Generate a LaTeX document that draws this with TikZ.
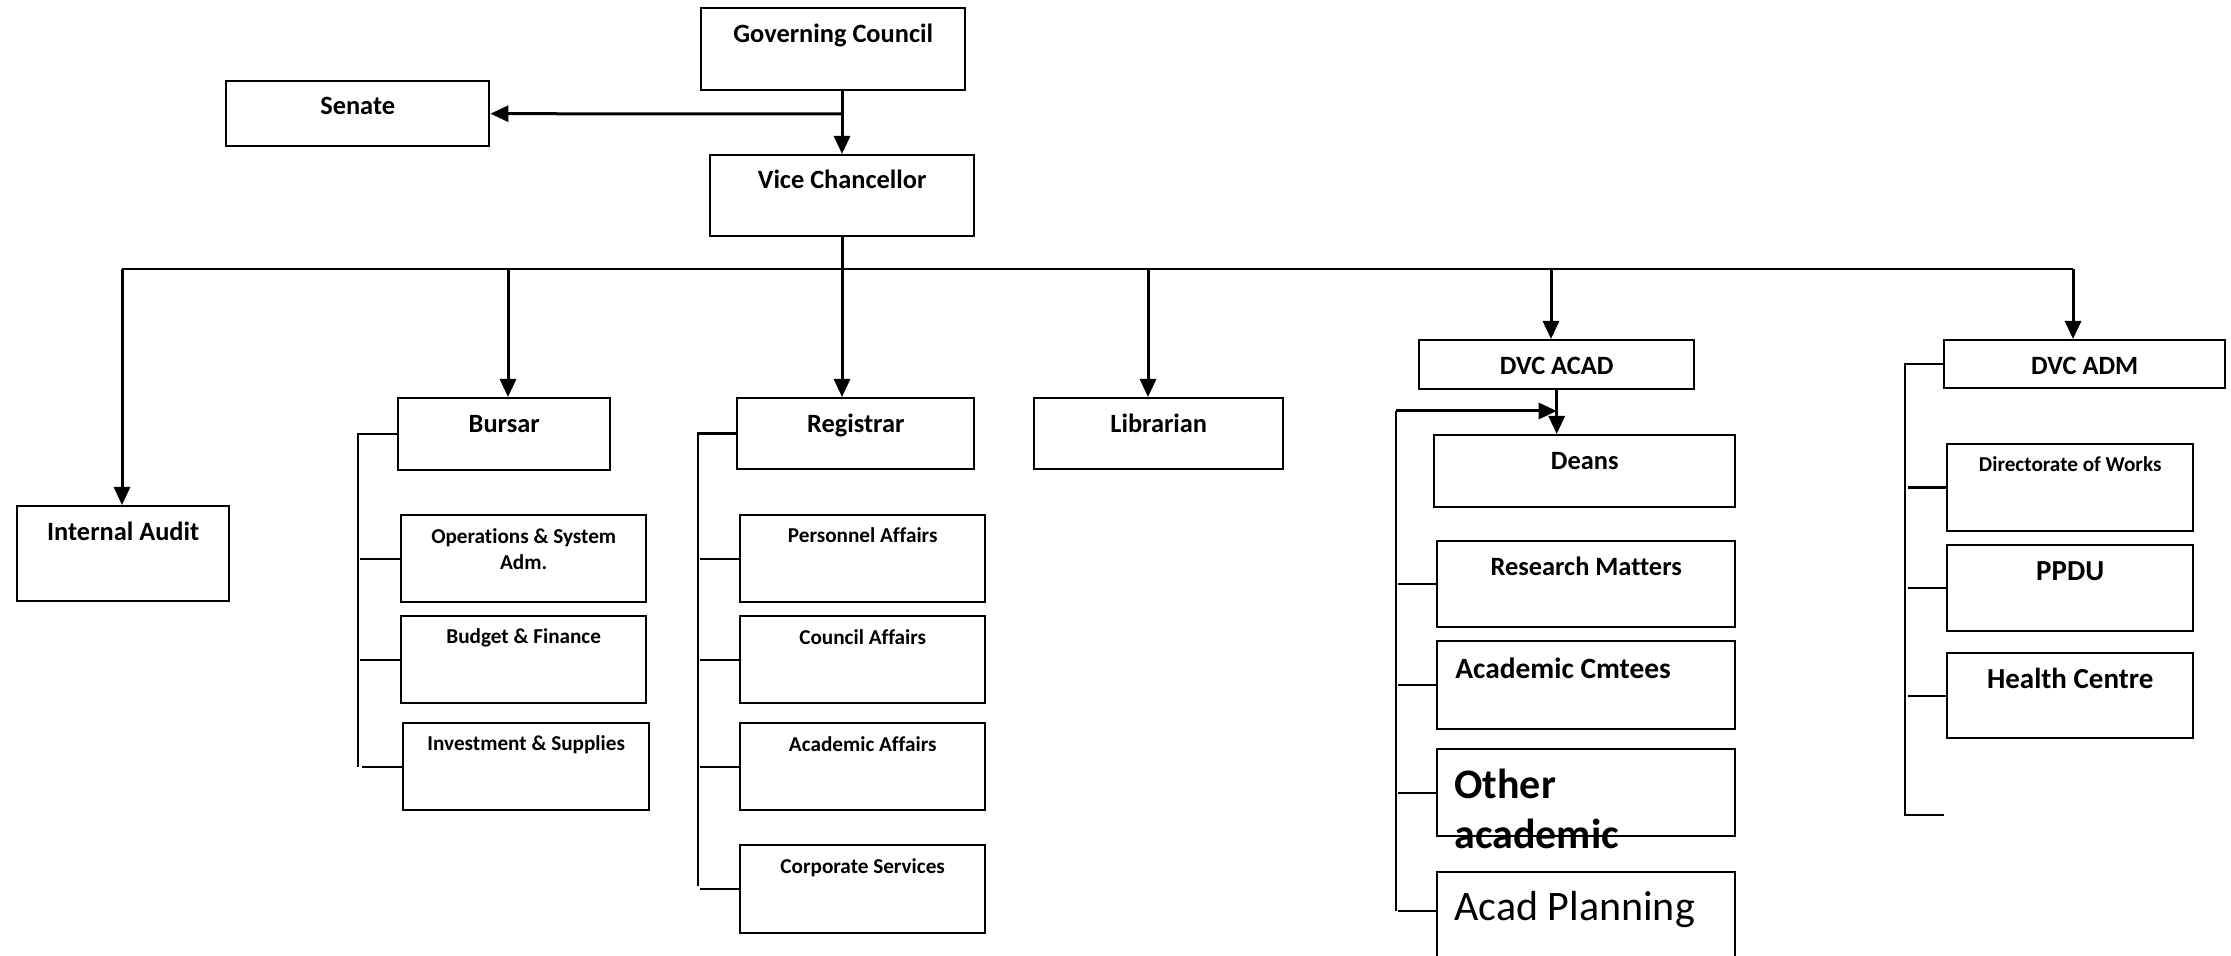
\documentclass[tikz,border=0pt]{standalone}
\usepackage{fontspec}
\setmainfont{Carlito}[Ligatures=NoCommon]
\usetikzlibrary{arrows.meta}

\begin{document}
\begin{tikzpicture}[
        x=0.5pt, y=-0.5pt, % one unit = one pixel of the scan
        cell/.style={draw, line width=1.2pt, inner sep=0pt, anchor=north west}, % boxes
        head/.style={anchor=base, font=\bfseries\fontsize{13.2}{16}\selectfont},
        sub/.style={anchor=base, align=center, font=\bfseries\fontsize{10.6}{13}\selectfont},
        big/.style={anchor=base west, align=left, inner sep=0pt, font=\bfseries\fontsize{21}{25}\selectfont},
        link/.style={line width=1.5pt, -{Triangle[length=9pt, width=8pt]}},
        bar/.style={line width=1.2pt},
    ]
    \useasboundingbox (0,0) rectangle (2231,956);
    \clip (0,0) rectangle (2231,956);

    % top of the chart
    \node[cell, minimum width=132pt, minimum height=41pt] (gc) at (700,7) {};
    \node[head] at ([yshift=-18pt]gc.north) {Governing Council};
    \node[cell, minimum width=131.5pt, minimum height=32.5pt] (sen) at (225,80) {};
    \node[head] at ([yshift=-17.5pt]sen.north) {Senate};
    \node[cell, minimum width=132pt, minimum height=40.5pt] (vc) at (709,154) {};
    \node[head] at ([yshift=-17.5pt]vc.north) {Vice Chancellor};

    \coordinate (fork) at (842,114);
    \draw[link] (gc.south -| fork) -- (vc.north -| fork);
    \draw[link] (fork) -- (sen.east);

    % second level
    \node[cell, minimum width=106pt, minimum height=47.5pt] (ia) at (16,505) {};
    \node[head] at ([yshift=-17.5pt]ia.north) {Internal Audit};
    \node[cell, minimum width=106pt, minimum height=36pt] (bur) at (397,397) {};
    \node[head] at ([yshift=-18pt]bur.north) {Bursar};
    \node[cell, minimum width=118.5pt, minimum height=35.5pt] (reg) at (736,397) {};
    \node[head] at ([yshift=-18pt]reg.north) {Registrar};
    \node[cell, minimum width=124.5pt, minimum height=35.5pt] (lib) at (1033,397) {};
    \node[head] at ([yshift=-18pt]lib.north) {Librarian};
    \node[cell, minimum width=137.5pt, minimum height=24.5pt] (dvca) at (1418,339) {};
    \node[head] at ([yshift=-18pt]dvca.north) {DVC ACAD};
    \node[cell, minimum width=140.5pt, minimum height=24pt] (dvcm) at (1943,339) {};
    \node[head] at ([yshift=-18pt]dvcm.north) {DVC ADM};

    \coordinate (busL) at (122,269);
    \coordinate (busR) at (2073,269);
    \draw[bar, line width=1.5pt] (vc.south -| fork) -- (fork |- busL);
    \draw[bar, line width=1.1pt] (busL) -- (busR);
    \foreach \x/\n in {122/ia, 508/bur, 842/reg, 1148/lib, 1551/dvca, 2073/dvcm}
        \draw[link] (\x,269) -- (\x,269 |- \n.north);

    % Bursar
    \node[cell, minimum width=122.5pt, minimum height=43.5pt] (ops) at (400,514) {};
    \node[sub] at ([yshift=-27.5pt]ops.north) {Operations \& System\\Adm.};
    \node[cell, minimum width=122.5pt, minimum height=43.5pt] (bud) at (400,615) {};
    \node[sub] at ([yshift=-14pt]bud.north) {Budget \& Finance};
    \node[cell, minimum width=123pt, minimum height=43.5pt] (inv) at (402,722) {};
    \node[sub] at ([yshift=-14pt]inv.north) {Investment \& Supplies};
    \draw[bar] (bur.west) -| (358,767);
    \foreach \n in {ops, bud, inv}
        \draw[bar] (\n.west) -- ++(-40,0);

    % Registrar
    \node[cell, minimum width=122.5pt, minimum height=43.5pt] (per) at (739,514) {};
    \node[sub] at ([yshift=-14.5pt]per.north) {Personnel Affairs};
    \node[cell, minimum width=122.5pt, minimum height=43.5pt] (cou) at (739,615) {};
    \node[sub] at ([yshift=-14.5pt]cou.north) {Council Affairs};
    \node[cell, minimum width=122.5pt, minimum height=43.5pt] (aca) at (739,722) {};
    \node[sub] at ([yshift=-14.5pt]aca.north) {Academic Affairs};
    \node[cell, minimum width=122.5pt, minimum height=44pt] (cor) at (739,844) {};
    \node[sub] at ([yshift=-14.5pt]cor.north) {Corporate Services};
    \draw[bar] (reg.west) -| (698,886);
    \foreach \n in {per, cou, aca, cor}
        \draw[bar] (\n.west) -- ++(-39,0);

    % DVC ACAD
    \node[cell, minimum width=150.5pt, minimum height=36pt] (dea) at (1433,434) {};
    \node[head] at ([yshift=-18pt]dea.north) {Deans};
    \node[cell, minimum width=149pt, minimum height=43pt] (res) at (1436,540) {};
    \node[head] at ([yshift=-17.5pt]res.north) {Research Matters};
    \node[cell, minimum width=149pt, minimum height=44pt] (cmt) at (1436,640) {};
    \node[big, font=\bfseries\fontsize{14.7}{18}\selectfont] at ([xshift=9.5pt, yshift=-19pt]cmt.north west) {Academic Cmtees};
    \node[cell, minimum width=149pt, minimum height=43.5pt] (oth) at (1436,748) {};
    \node[big] at ([xshift=9pt, yshift=-50pt]oth.north west) {Other\\academic};
    \node[cell, minimum width=149pt, minimum height=100pt] (pla) at (1436,871) {};
    \node[big, font=\fontsize{21}{25}\selectfont] at ([xshift=9pt, yshift=-24.5pt]pla.north west) {Acad Planning};

    \coordinate (loop) at (1396,411);
    \draw[link] (dvca.south) -- (dvca.south |- dea.north);
    \draw[link] (loop) -- (dvca.south |- loop);
    \draw[bar] (loop) -- (1396,911);
    \foreach \n in {res, cmt, oth}
        \draw[bar] (\n.west) -- ++(-38,0);
    \draw[bar] ([yshift=-20pt]pla.north west) -- ++(-38,0);

    % DVC ADM
    \node[cell, minimum width=123pt, minimum height=43.5pt] (dir) at (1946,443) {};
    \node[sub] at ([yshift=-14.5pt]dir.north) {Directorate of Works};
    \node[cell, minimum width=123pt, minimum height=43pt] (ppd) at (1946,544) {};
    \node[head, font=\bfseries\fontsize{14.5}{18}\selectfont] at ([yshift=-18.5pt]ppd.north) {PPDU};
    \node[cell, minimum width=123pt, minimum height=42.5pt] (hea) at (1946,652) {};
    \node[head, font=\bfseries\fontsize{14.5}{18}\selectfont] at ([yshift=-18pt]hea.north) {Health Centre};
    \coordinate (admend) at (1905,815);
    \draw[bar] (dvcm.west) -| (admend) -- ++(39,0);
    \foreach \n in {dir, ppd, hea}
        \draw[bar] (\n.west) -- ++(-38,0);
\end{tikzpicture}
\end{document}
